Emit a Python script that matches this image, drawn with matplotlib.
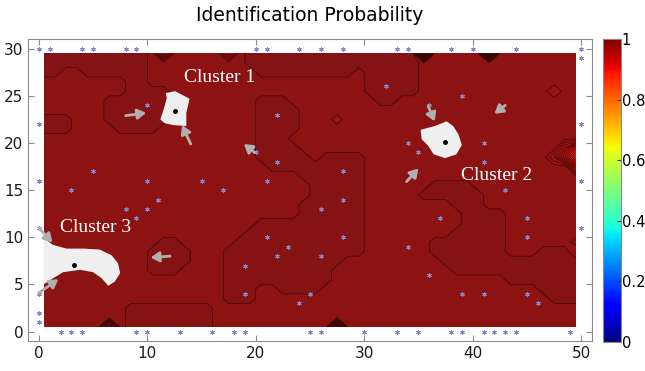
import numpy as np
import matplotlib as mpl
mpl.use('Agg')
from matplotlib import pyplot as plt
from matplotlib.path import Path
from matplotlib.colors import ListedColormap

# sensor positions (blue asterisks)
top_x = [0, 1, 4, 5, 8, 9, 20, 21, 24, 26, 28, 33, 34, 38, 40, 44, 50]
bottom_x = [2, 3, 4, 9, 10, 13, 16, 18, 19, 25, 26, 30, 33, 35, 38, 39, 41, 42, 43, 44, 49]
left_y = [22, 16, 11, 4, 2, 1]
right_y = [29, 22, 16, 11]
inner_x = [10, 5, 10, 15, 3, 22, 22, 21, 28, 32, 20, 17, 39, 36, 34, 35, 41, 41, 43, 37, 45, 45,
           34, 36, 39, 41, 45, 46, 28, 26, 28, 21, 23, 22, 26, 19, 19, 25, 24, 8, 10, 11, 9]
inner_y = [24, 17, 16, 16, 15, 23, 18, 16, 17, 26, 19, 15, 25, 24, 20, 19, 20, 18, 15, 12, 12, 10,
           9, 6, 4, 4, 4, 3, 14, 13, 10, 10, 9, 8, 8, 7, 4, 4, 3, 13, 13, 14, 12]

# cluster centres and their blank (white) areas
centers_x = [12.6, 37.45, 3.2]
centers_y = [23.4, 20.1, 7.07]
cluster_names = ['Cluster 1', 'Cluster 2', 'Cluster 3']
label_x = [16.7, 42.2, 5.2]
label_y = [26.9, 16.6, 11.0]

hole1 = [(11.7, 25.3), (12.55, 25.5), (13.9, 24.7), (13.6, 23.2), (13.6, 21.8), (12.4, 21.9),
         (11.6, 22.1), (11.2, 22.5), (11.6, 23.9), (11.8, 24.8)]
hole2 = [(35.2, 21.4), (36.5, 21.8), (37.6, 22.3), (38.2, 21.8), (38.7, 20.9), (39.0, 19.8),
         (38.5, 18.8), (37.45, 18.4), (36.4, 18.8), (35.9, 19.7), (35.3, 20.4)]
hole3 = [(0.45, 9.9), (1.3, 9.2), (2.55, 8.8), (4.1, 8.8), (5.6, 8.7), (6.7, 8.1), (7.3, 7.25),
         (7.5, 6.2), (7.0, 5.3), (6.4, 4.85), (5.8, 5.65), (5.0, 6.3), (3.8, 6.55), (2.25, 6.3),
         (1.3, 5.65), (0.45, 5.0)]

# arrows: tail -> head
arrow_tail = [(8.0, 22.9), (14.0, 19.9), (35.9, 23.9), (43.0, 24.0), (33.9, 15.9),
              (12.1, 8.0), (0.0, 11.0), (0.0, 4.1), (19.9, 19.0)]
arrow_head = [(9.9, 23.2), (13.2, 21.9), (36.5, 22.3), (42.0, 23.1), (35.0, 17.3),
              (10.3, 7.85), (1.25, 9.45), (1.8, 5.55), (18.9, 19.9)]

# regions enclosed by contour lines of the probability field
regions = [
    [(-1, 31), (-1, 26.9), (1.5, 26.9), (2.4, 27.8), (3.3, 27.8), (4.1, 26.9), (6.1, 26.9), (6.7, 27.5),
     (7.5, 26.6), (7.9, 25.5), (6.1, 24.4), (5.9, 22.1), (7.5, 20.9), (10.1, 20.4), (12.6, 23.4),
     (12.4, 26), (10.7, 26), (10.2, 27), (10.2, 31)],
    [(-1, 23.4), (2.4, 23.4), (3.2, 22), (2.4, 20.6), (-1, 20.6)],
    [(18.5, 31), (18.7, 28.4), (20.2, 26.9), (21.5, 27.4), (22.5, 26.9), (23.7, 27.4), (24.7, 26.9),
     (25.8, 27.4), (26.9, 26.9), (28, 27.2), (29.5, 28), (29.5, 31)],
    [(9.9, 8.85), (10.9, 9.7), (13.0, 9.7), (13.8, 8.85), (13.8, 6.9), (13.0, 6.0), (10.9, 6.0), (9.9, 6.9)],
    [(19.9, 23.9), (20.8, 25), (22.9, 25), (23.8, 23.9), (23.8, 21.6), (22.9, 20.7), (24, 19.5),
     (25.8, 17.7), (26.4, 18.8), (29.8, 18.8), (29.8, 8.1), (28.8, 8), (26.4, 5.3), (24.5, 3.5),
     (22.5, 3.5), (21, 5.5), (19.5, 3.2), (17, 3.5), (17, 8), (19, 11), (19.9, 11.5), (23.6, 11.7),
     (23.6, 13.8), (25.2, 14.9), (24, 17), (20.5, 17.5), (19.9, 21)],
    [(30.1, 31), (30.1, 25.2), (31, 24.1), (33, 24.1), (34, 25), (35, 26), (35, 28.5), (34.5, 31)],
    [(35, 13.1), (35.9, 14), (38.1, 14), (38.8, 12.9), (38.8, 11), (37.9, 10.1), (36.2, 9.55),
     (35.9, 8.7), (36.2, 8), (37.8, 7.1), (38.4, 6), (41.8, 5.8), (43.3, 5.3), (46.1, 5.3),
     (46.4, 4.2), (47.6, 3.2), (51, 2.5), (51, 9.9), (47.3, 9.2), (45.8, 8.85), (45.1, 7.8),
     (43.9, 7.8), (43, 8.5), (43, 11.3), (42.7, 12.7), (41.8, 13.1), (39.9, 15.6), (38.8, 16.1),
     (37, 16), (35, 15)],
    [(7.5, -1), (7.5, 2.8), (9.3, 3.3), (12.1, 3.3), (16.1, 2.8), (16.5, -1)],
]
base_low = 0.985
base_high = 0.995

# local dips of the field (x, y, value)
dip_x = [35.5, 41.5, 11.5, 17.5, 27.5, 6.5, 27.5, 47.5, 49.5, 49.5,
         49.5, 48.5, 47.5, 49.5, 49.5, 48.5]
dip_y = [29.5, 29.5, 29.5, 29.5, 0.5, 0.5, 22.5, 25.5, 13.5, 8.5,
         18.5, 18.5, 18.5, 19.5, 17.5, 19.5]
dip_v = [0.55, 0.55, 0.9, 0.93, 0.7, 0.82, 0.975, 0.97, 0.98, 0.98,
         0.86, 0.91, 0.96, 0.9, 0.93, 0.95]

xs = np.arange(0.5, 50, 1.0)
ys = np.arange(0.5, 30, 1.0)
X, Y = np.meshgrid(xs, ys)
pts = np.column_stack([X.ravel(), Y.ravel()])
inside = np.zeros(X.size, dtype=bool)
for poly in regions:
    inside ^= Path(poly).contains_points(pts)
Z = np.where(inside.reshape(X.shape), base_high, base_low)
for dx, dy, dv in zip(dip_x, dip_y, dip_v):
    Z[int(dy - 0.5), int(dx - 0.5)] = dv

# slightly washed jet for the field (the printed figure looks a bit dull)
jet = mpl.colormaps['jet']
field_cmap = ListedColormap(jet(np.linspace(0, 1, 256))[:, :3] * 0.86 + 0.075)

fig = plt.figure(figsize=(6.45, 3.71), dpi=100)
ax = fig.add_axes([0.0434, 0.0809, 0.8744, 0.8131])
levels = np.arange(0.5, 1.0001, 0.01)
ax.contourf(X, Y, Z, levels=levels, cmap=field_cmap, vmin=0, vmax=1, zorder=1)
ax.contour(X, Y, Z, levels=levels, colors='#3a0606', linewidths=0.45, zorder=2)

for hole in (hole1, hole2, hole3):
    hx, hy = zip(*hole)
    ax.fill(hx, hy, color='#efefef', lw=0, zorder=3)

sx = top_x + bottom_x + [0] * len(left_y) + [50] * len(right_y) + inner_x
sy = [30] * len(top_x) + [0] * len(bottom_x) + left_y + right_y + inner_y
ax.plot(sx, sy, ls='none', marker=(6, 2, 0), ms=3.2, mew=0.7, color='#8585cc', zorder=4, clip_on=False)
ax.plot(centers_x, centers_y, ls='none', marker='o', ms=2.5, color='black', zorder=4)

for t, h in zip(arrow_tail, arrow_head):
    ax.annotate('', xy=h, xytext=t,
                arrowprops=dict(arrowstyle='-|>,head_length=0.5,head_width=0.3', color='#b0b0b0',
                                lw=2.0, shrinkA=0, shrinkB=0), zorder=5)

for name, lx, ly in zip(cluster_names, label_x, label_y):
    ax.text(lx, ly, name, color='white', fontsize=14, family='Liberation Serif',
            ha='center', va='center', zorder=6)

ax.set_xlim(-1, 51)
ax.set_ylim(-1, 31)
ax.set_xticks(range(0, 51, 10))
ax.set_yticks(range(0, 31, 5))
for s in ax.spines.values():
    s.set_color('#8a8a8a')
ax.tick_params(direction='in', length=4, color='#8a8a8a', top=True, right=True,
               labelsize=11, labelcolor='#1a1a1a')
ax.set_title('Identification Probability', fontsize=13.5, pad=13)

cax = fig.add_axes([0.9349, 0.0782, 0.0279, 0.8167])
sm = mpl.cm.ScalarMappable(norm=mpl.colors.Normalize(0, 1), cmap='jet')
cb = fig.colorbar(sm, cax=cax, ticks=[0, 0.2, 0.4, 0.6, 0.8, 1])
cb.ax.set_yticklabels(['0', '0.2', '0.4', '0.6', '0.8', '1'])
cb.outline.set_edgecolor('#8a8a8a')
cb.ax.tick_params(direction='in', length=3, color='#333333', labelsize=10.5, pad=0.5)

fig.savefig('out.png', dpi=100)
